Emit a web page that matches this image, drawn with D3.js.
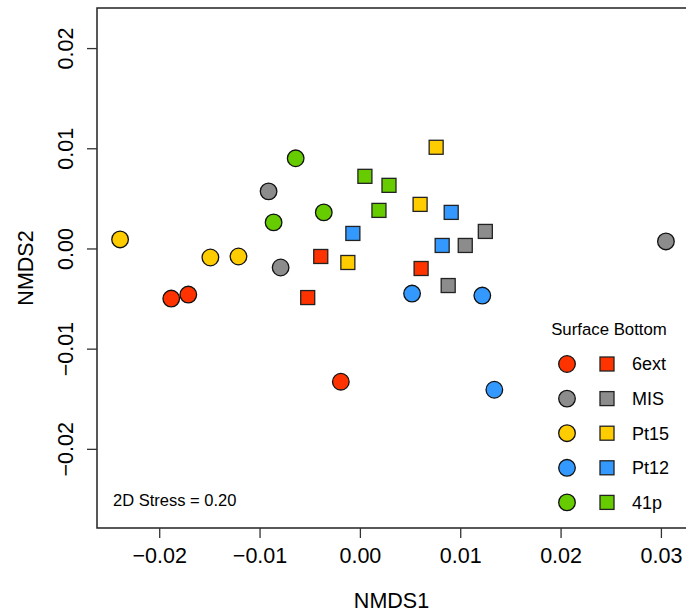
<!DOCTYPE html>
<html>
<head>
<meta charset="utf-8">
<script src="https://cdn.jsdelivr.net/npm/d3@7"></script>
<style>
  body { margin: 0; background: #fff; }
  text { font-family: "Liberation Sans", Arial, Helvetica, sans-serif; fill: #000; }
</style>
</head>
<body>
<script>
'use strict';

// sites, in legend order, and their fill colours
const sites = ["6ext", "MIS", "Pt15", "Pt12", "41p"];
const siteColors = ["#ff3300", "#8c8c8c", "#ffcc00", "#3399ff", "#66cc00"];

// surface samples (circles): [site, NMDS1, NMDS2]
const surfacePoints = [
  ["6ext", -0.0188, -0.0050], ["6ext", -0.0171, -0.0046], ["6ext", -0.0019, -0.0133],
  ["MIS", -0.0091, 0.0057], ["MIS", -0.0079, -0.0019], ["MIS", 0.0305, 0.0007],
  ["Pt15", -0.0239, 0.0009], ["Pt15", -0.0149, -0.0009], ["Pt15", -0.0121, -0.0008],
  ["Pt12", 0.0052, -0.0045], ["Pt12", 0.0122, -0.0047], ["Pt12", 0.0134, -0.0141],
  ["41p", -0.0064, 0.0090], ["41p", -0.0036, 0.0036], ["41p", -0.0086, 0.0026]
];

// bottom samples (squares): [site, NMDS1, NMDS2]
const bottomPoints = [
  ["6ext", -0.0039, -0.0008], ["6ext", -0.0052, -0.0049], ["6ext", 0.0061, -0.0020],
  ["MIS", 0.0125, 0.0017], ["MIS", 0.0105, 0.0003], ["MIS", 0.0088, -0.0037],
  ["Pt15", 0.0076, 0.0101], ["Pt15", 0.0060, 0.0044], ["Pt15", -0.0012, -0.0014],
  ["Pt12", 0.0091, 0.0036], ["Pt12", 0.0082, 0.0003], ["Pt12", -0.0007, 0.0015],
  ["41p", 0.0005, 0.0072], ["41p", 0.0029, 0.0063], ["41p", 0.0019, 0.0038]
];

const xTicks = [-0.02, -0.01, 0.00, 0.01, 0.02, 0.03];
const yTicks = [-0.02, -0.01, 0.00, 0.01, 0.02];
const stressLabel = "2D Stress = 0.20";

const width = 686, height = 614;
const plot = { left: 97, top: 8, right: 686, bottom: 528 };

const svg = d3.select("body").append("svg")
  .attr("width", width)
  .attr("height", height);

const x = d3.scaleLinear().domain([-0.0262, 0.0325]).range([plot.left, plot.right]);
const y = d3.scaleLinear().domain([-0.0279, 0.0240]).range([plot.bottom, plot.top]);
const color = d3.scaleOrdinal().domain(sites).range(siteColors);
const fmt = d3.format(".2f");

// frame (right edge falls off the picture)
svg.append("path")
  .attr("d", `M${plot.right},${plot.top}H${plot.left}V${plot.bottom}H${plot.right}`)
  .attr("fill", "none")
  .attr("stroke", "#222")
  .attr("stroke-width", 1.5);

// x axis
const xAxis = svg.append("g")
  .attr("transform", `translate(0,${plot.bottom})`)
  .call(d3.axisBottom(x).tickValues(xTicks).tickFormat(fmt).tickSize(10).tickPadding(10));
xAxis.select(".domain").remove();
xAxis.selectAll(".tick line").attr("stroke", "#333").attr("stroke-width", 1.3);
xAxis.selectAll(".tick text")
  .style("font-size", "21.5px")
  .style("font-family", "'Liberation Sans', Arial, sans-serif")
  .attr("fill", "#000");

// y axis, labels rotated like R's default
const yAxis = svg.append("g")
  .attr("transform", `translate(${plot.left},0)`)
  .call(d3.axisLeft(y).tickValues(yTicks).tickFormat(fmt).tickSize(10));
yAxis.select(".domain").remove();
yAxis.selectAll(".tick line").attr("stroke", "#333").attr("stroke-width", 1.3);
yAxis.selectAll(".tick text")
  .attr("x", null).attr("dy", null)
  .attr("transform", "translate(-24,0) rotate(-90)")
  .attr("text-anchor", "middle")
  .attr("fill", "#000")
  .style("font-size", "21.5px")
  .style("font-family", "'Liberation Sans', Arial, sans-serif");

// axis titles
svg.append("text")
  .attr("x", (plot.left + plot.right) / 2)
  .attr("y", 608)
  .attr("text-anchor", "middle")
  .style("font-size", "21.5px")
  .text("NMDS1");

svg.append("text")
  .attr("transform", `translate(33,${(plot.top + plot.bottom) / 2}) rotate(-90)`)
  .attr("text-anchor", "middle")
  .style("font-size", "21.5px")
  .text("NMDS2");

// points
svg.append("g").selectAll("circle")
  .data(surfacePoints)
  .join("circle")
    .attr("cx", d => x(d[1]))
    .attr("cy", d => y(d[2]))
    .attr("r", 8.3)
    .attr("fill", d => color(d[0]))
    .attr("stroke", "#111")
    .attr("stroke-width", 1.3);

const sq = 14;
svg.append("g").selectAll("rect")
  .data(bottomPoints)
  .join("rect")
    .attr("x", d => x(d[1]) - sq / 2)
    .attr("y", d => y(d[2]) - sq / 2)
    .attr("width", sq)
    .attr("height", sq)
    .attr("fill", d => color(d[0]))
    .attr("stroke", "#222")
    .attr("stroke-width", 1.3);

// stress annotation
svg.append("text")
  .attr("x", 113)
  .attr("y", 506)
  .style("font-size", "16.5px")
  .text(stressLabel);

// legend
const legend = svg.append("g");
legend.append("text")
  .attr("x", 609)
  .attr("y", 335)
  .attr("text-anchor", "middle")
  .style("font-size", "16.8px")
  .text("Surface Bottom");

const row = legend.selectAll("g.row")
  .data(sites)
  .join("g")
    .attr("class", "row")
    .attr("transform", (d, i) => `translate(0,${364 + i * 34.6})`);

row.append("circle")
  .attr("cx", 567)
  .attr("r", 8.3)
  .attr("fill", d => color(d))
  .attr("stroke", "#111")
  .attr("stroke-width", 1.3);

row.append("rect")
  .attr("x", 607 - sq / 2)
  .attr("y", -sq / 2)
  .attr("width", sq)
  .attr("height", sq)
  .attr("fill", d => color(d))
  .attr("stroke", "#222")
  .attr("stroke-width", 1.3);

row.append("text")
  .attr("x", 632)
  .attr("dy", "0.35em")
  .style("font-size", "18px")
  .text(d => d);
</script>
</body>
</html>
